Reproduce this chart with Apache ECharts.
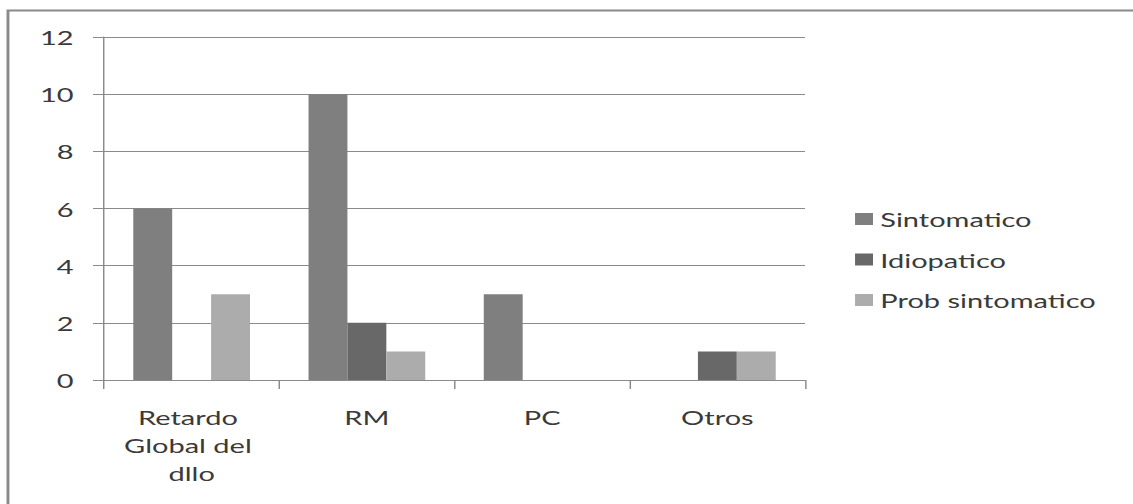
<!DOCTYPE html>
<html>
<head>
<meta charset="utf-8">
<script src="https://cdn.jsdelivr.net/npm/echarts@6/dist/echarts.min.js"></script>
<style>
  html, body { margin: 0; padding: 0; background: #fff; overflow: hidden; }
  #wrap { width: 1133px; height: 504px; overflow: hidden; }
  /* the chart is laid out narrow and stretched sideways, giving the wide lettering */
  #chart { width: 781px; height: 504px; transform: scaleX(1.4507); transform-origin: 0 0; }
</style>
</head>
<body>
<div id="wrap"><div id="chart"></div></div>
<script>
const categories = ['Retardo Global del dllo', 'RM', 'PC', 'Otros'];
const seriesNames = ['Sintomatico', 'Idiopatico', 'Prob sintomatico'];
const sintomatico = [6, 10, 3, 0];
const idiopatico = [0, 2, 0, 1];
const probSintomatico = [3, 1, 0, 1];
const seriesColors = ['#7f7f7f', '#686868', '#acacac'];

const FONT = 'Lato';
const TEXT = '#3a3a3a';
const LINE = '#8a8a8a';

const chart = echarts.init(document.getElementById('chart'), null, { renderer: 'svg' });

const values = [sintomatico, idiopatico, probSintomatico];

chart.setOption({
  backgroundColor: '#ffffff',
  animation: false,
  textStyle: { fontFamily: FONT },
  graphic: [{
    type: 'rect',
    shape: { x: 5.5, y: 10.5, width: 1000, height: 1000 },
    style: { fill: 'none', stroke: LINE, lineWidth: 2 },
    silent: true
  }],
  grid: { left: 71.7, right: 226.1, top: 37, bottom: 124, containLabel: false },
  legend: {
    orient: 'vertical',
    left: 589.4,
    top: 209,
    padding: 0,
    icon: 'rect',
    itemWidth: 12.4,
    itemHeight: 12,
    itemGap: 20.5,
    data: seriesNames,
    textStyle: { fontFamily: FONT, fontSize: 20, color: TEXT, lineHeight: 20 }
  },
  xAxis: {
    type: 'category',
    data: categories,
    boundaryGap: true,
    axisLine: { show: true, lineStyle: { color: LINE, width: 1 } },
    axisTick: { show: true, alignWithLabel: false, length: 9, lineStyle: { color: LINE } },
    axisLabel: {
      interval: 0,
      margin: 23,
      fontFamily: FONT,
      fontSize: 20,
      lineHeight: 28,
      color: TEXT,
      width: 110,
      overflow: 'break'
    },
    splitLine: { show: false }
  },
  yAxis: {
    type: 'value',
    min: 0,
    max: 12,
    interval: 2,
    axisLine: { show: true, lineStyle: { color: LINE, width: 1 } },
    axisTick: { show: true, length: 7.6, lineStyle: { color: LINE } },
    axisLabel: { margin: 21, fontFamily: FONT, fontSize: 20, color: TEXT },
    splitLine: { show: true, lineStyle: { color: LINE, width: 1 } }
  },
  series: seriesNames.map((name, i) => ({
    name: name,
    type: 'bar',
    data: values[i],
    barGap: 0,
    barCategoryGap: '33.4%',
    itemStyle: { color: seriesColors[i] }
  }))
});
</script>
</body>
</html>
